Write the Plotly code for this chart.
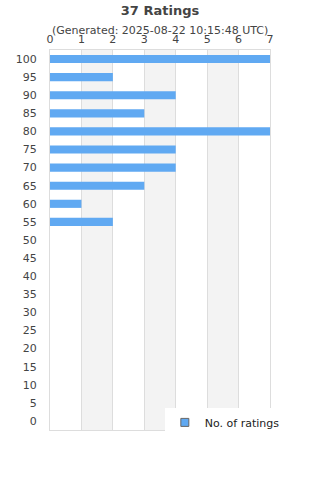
import plotly.graph_objects as go

categories = [str(v) for v in range(0, 105, 5)]
counts = [0, 0, 0, 0, 0, 0, 0, 0, 0, 0, 0, 2, 1, 3, 4, 4, 7, 3, 4, 2, 7]
x_ticks = [0, 1, 2, 3, 4, 5, 6, 7]

fig = go.Figure()
fig.add_trace(go.Bar(
    x=counts, y=categories, orientation="h", name="No. of ratings",
    marker=dict(color="#60a9f2", line=dict(width=0)),
    showlegend=False,
))
fig.add_trace(go.Scatter(
    x=[None], y=[None], mode="markers", name="No. of ratings",
    marker=dict(symbol="square", size=8, color="#60a9f2", line=dict(color="#666", width=1)),
    showlegend=True,
))

shapes = []
for a in (1, 3, 5):
    shapes.append(dict(type="rect", xref="x", yref="paper", x0=a, x1=a + 1, y0=0, y1=1,
                       fillcolor="#f3f3f3", line=dict(width=0), layer="below"))

fig.update_layout(
    width=320, height=480,
    margin=dict(l=50, r=50, t=50, b=50),
    paper_bgcolor="white", plot_bgcolor="white",
    font=dict(family="DejaVu Sans", size=11, color="#444"),
    title=dict(text="<b>37 Ratings</b>", x=0.5, xanchor="center", y=0.988, yanchor="top",
               font=dict(size=13, color="#444")),
    annotations=[dict(text="(Generated: 2025-08-22 10:15:48 UTC)", xref="paper", yref="paper",
                      x=0.5, y=1, xanchor="center", yanchor="bottom", yshift=11, showarrow=False,
                      font=dict(size=11, color="#444"))],
    shapes=shapes,
    bargap=0.55,
    xaxis=dict(side="top", range=[0, 7], tickvals=x_ticks, showgrid=True, gridcolor="#dddddd",
               gridwidth=1, zeroline=False, showline=True, linecolor="#dddddd", mirror=True,
               ticks="", fixedrange=True, ticklabelstandoff=2),
    yaxis=dict(type="category", categoryorder="array", categoryarray=categories,
               showgrid=False, showline=True, linecolor="#dddddd", mirror=True, ticks="",
               ticklabelstandoff=10, range=[-0.5, 20.5]),
    legend=dict(x=0.522, y=0.02, xanchor="left", yanchor="middle", bgcolor="white",
                font=dict(size=11, color="#222"), itemwidth=30),
)
fig.write_html("out.html")
